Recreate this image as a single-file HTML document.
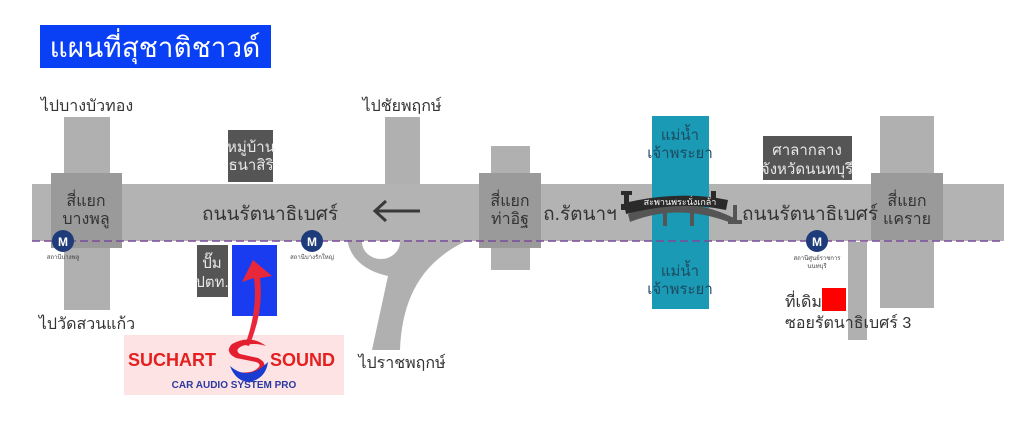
<!DOCTYPE html>
<html><head><meta charset="utf-8"><style>
body{margin:0;background:#fff;}
svg text{font-family:"Liberation Sans","Noto Sans CJK SC",sans-serif;}
</style></head><body>
<svg width="1024" height="428" viewBox="0 0 1024 428" xmlns="http://www.w3.org/2000/svg">
<rect width="1024" height="428" fill="#fff"/>
<!-- title -->
<rect x="40" y="25" width="231" height="43" fill="#0a40f5"/>
<text x="155" y="57" font-size="28" fill="#fff" text-anchor="middle">แผนที่สุชาติชาวด์</text>

<!-- ramp -->
<path d="M347 238 C350 262 370 272 388 276 L372 350 L400 350 C402 300 420 260 473 238 Z" fill="#b0b0b0"/>
<ellipse cx="381" cy="242" rx="19" ry="17" fill="#fff"/>
<!-- vertical roads -->
<rect x="64" y="117" width="46" height="193" fill="#b0b0b0"/>
<rect x="385" y="117" width="35" height="70" fill="#b0b0b0"/>
<rect x="491" y="146" width="39" height="124" fill="#b0b0b0"/>
<rect x="880" y="116" width="54" height="192" fill="#b0b0b0"/>
<rect x="848" y="242" width="19" height="98" fill="#b0b0b0"/>
<!-- main road -->
<rect x="32" y="184" width="972" height="57" fill="#b3b3b3"/>
<!-- intersections -->
<rect x="51" y="173" width="71" height="75" fill="#9a9a9a"/>
<rect x="479" y="173" width="62" height="75" fill="#9a9a9a"/>
<rect x="871" y="173" width="72" height="67" fill="#9a9a9a"/>
<!-- river -->
<rect x="652" y="116" width="57" height="193" fill="#1a9ab5"/>
<!-- dashed line -->
<line x1="32" y1="241" x2="1004" y2="241" stroke="#7a4a9a" stroke-width="1.5" stroke-dasharray="8,4"/>
<!-- boxes -->
<rect x="228" y="130" width="45" height="52" fill="#555"/>
<text x="251" y="152" font-size="15" fill="#e8e8e8" text-anchor="middle">หมู่บ้าน</text>
<text x="251" y="170" font-size="15" fill="#e8e8e8" text-anchor="middle">ธนาสิริ</text>
<rect x="197" y="245" width="31" height="52" fill="#555"/>
<text x="212" y="268" font-size="15" fill="#e8e8e8" text-anchor="middle">ปั๊ม</text>
<text x="212" y="287" font-size="15" fill="#e8e8e8" text-anchor="middle">ปตท.</text>
<rect x="232" y="245" width="45" height="71" fill="#1a3cf0"/>
<rect x="763" y="136" width="89" height="44" fill="#555"/>
<text x="807" y="155" font-size="15" fill="#e8e8e8" text-anchor="middle">ศาลากลาง</text>
<text x="807" y="174" font-size="15" fill="#e8e8e8" text-anchor="middle">จังหวัดนนทบุรี</text>
<rect x="822" y="288" width="24" height="23" fill="#f00"/>
<!-- road labels -->
<text x="86" y="206" font-size="16" fill="#333" text-anchor="middle">สี่แยก</text>
<text x="86" y="224" font-size="16" fill="#333" text-anchor="middle">บางพลู</text>
<text x="270" y="220" font-size="19" fill="#333" text-anchor="middle">ถนนรัตนาธิเบศร์</text>
<path d="M420 211 L376 211 M386 201 L375 211 L386 221" stroke="#3a3a3a" stroke-width="3" fill="none"/>
<text x="510" y="206" font-size="16" fill="#333" text-anchor="middle">สี่แยก</text>
<text x="510" y="224" font-size="16" fill="#333" text-anchor="middle">ท่าอิฐ</text>
<text x="580" y="220" font-size="19" fill="#333" text-anchor="middle">ถ.รัตนาฯ</text>
<text x="810" y="220" font-size="19" fill="#333" text-anchor="middle">ถนนรัตนาธิเบศร์</text>
<text x="907" y="206" font-size="16" fill="#333" text-anchor="middle">สี่แยก</text>
<text x="907" y="224" font-size="16" fill="#333" text-anchor="middle">แคราย</text>
<text x="680" y="140" font-size="15" fill="#1e4a60" text-anchor="middle">แม่น้ำ</text>
<text x="680" y="158" font-size="15" fill="#1e4a60" text-anchor="middle">เจ้าพระยา</text>
<text x="680" y="276" font-size="15" fill="#1e4a60" text-anchor="middle">แม่น้ำ</text>
<text x="680" y="294" font-size="15" fill="#1e4a60" text-anchor="middle">เจ้าพระยา</text>
<!-- bridge -->
<path d="M628 214 Q680 192 734 218 L734 224 Q680 202 630 222 Z" fill="#555"/>
<path d="M624 203 Q680 190 728 200 L726 210 Q680 200 626 214 Z" fill="#2a2a2a"/>
<rect x="621" y="204" width="12" height="6" fill="#2a2a2a"/>
<rect x="624" y="191" width="5" height="18" fill="#2a2a2a"/>
<rect x="621" y="191" width="11" height="4" fill="#2a2a2a"/>
<rect x="711" y="191" width="5" height="16" fill="#2a2a2a"/>
<rect x="733" y="205" width="4" height="18" fill="#555"/>
<rect x="728" y="220" width="14" height="4" fill="#555"/>
<rect x="663" y="213" width="4" height="13" fill="#555"/>
<rect x="690" y="213" width="4" height="13" fill="#555"/>
<text x="680" y="205" font-size="9" fill="#fff" text-anchor="middle">สะพานพระนั่งเกล้า</text>
<!-- direction labels -->
<text x="87" y="111" font-size="16" fill="#333" text-anchor="middle">ไปบางบัวทอง</text>
<text x="402" y="111" font-size="16" fill="#333" text-anchor="middle">ไปชัยพฤกษ์</text>
<text x="87" y="329" font-size="16" fill="#333" text-anchor="middle">ไปวัดสวนแก้ว</text>
<text x="402" y="368" font-size="16" fill="#333" text-anchor="middle">ไปราชพฤกษ์</text>
<text x="785" y="307" font-size="16" fill="#333">ที่เดิม</text>
<text x="785" y="328" font-size="16" fill="#333">ซอยรัตนาธิเบศร์ 3</text>
<!-- metro -->
<g font-size="6" fill="#444" text-anchor="middle">
<circle cx="63" cy="241" r="11" fill="#1e3c7a"/><text x="63" y="246" font-size="12" font-weight="bold" fill="#fff">M</text>
<text x="63" y="259">สถานีบางพลู</text>
<circle cx="312" cy="241" r="11" fill="#1e3c7a"/><text x="312" y="246" font-size="12" font-weight="bold" fill="#fff">M</text>
<text x="312" y="259">สถานีบางรักใหญ่</text>
<circle cx="817" cy="241" r="11" fill="#1e3c7a"/><text x="817" y="246" font-size="12" font-weight="bold" fill="#fff">M</text>
<text x="817" y="260">สถานีศูนย์ราชการ</text>
<text x="817" y="268">นนทบุรี</text>
</g>
<!-- logo -->
<rect x="124" y="335" width="220" height="60" fill="#fde3e4"/>
<path d="M245 345 Q258 310 254 278 L242 282 L253 260 L272 276 L260 278 Q264 312 249 346 Z" fill="#e8283a"/>
<path d="M266 346 Q250 334 232 344 Q224 352 236 358 L256 362 Q262 364 258 368 Q252 374 236 372 Q246 380 260 372 Q270 364 258 358 L240 354 Q234 350 242 346 Q254 342 266 346 Z" fill="#e42030"/>
<path d="M230 366 Q248 382 268 362 Q266 378 250 382 Q236 382 230 366 Z" fill="#1a3cd0"/>
<text x="128" y="366" font-size="18" font-weight="bold" fill="#e42020">SUCHART</text>
<text x="270" y="366" font-size="18" font-weight="bold" fill="#e42020">SOUND</text>
<text x="234" y="388" font-size="10" font-weight="bold" fill="#2a3aa0" text-anchor="middle">CAR AUDIO SYSTEM PRO</text>
</svg>
</body></html>
